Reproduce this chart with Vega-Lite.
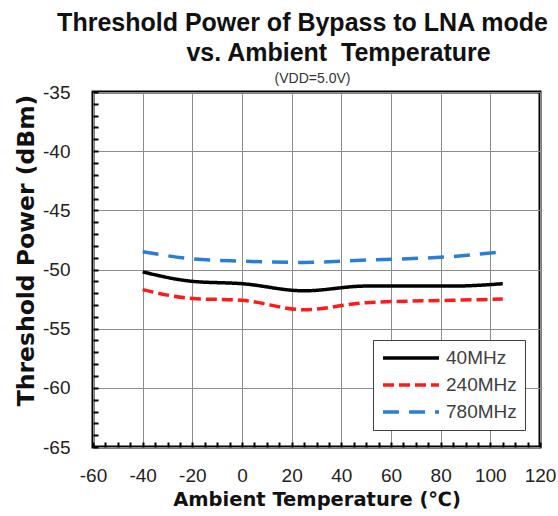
{
  "$schema": "https://vega.github.io/schema/vega-lite/v6.json",
  "width": 447,
  "height": 355,
  "autosize": {"type": "none"},
  "padding": {"left": 93, "top": 92, "right": 18, "bottom": 69},
  "background": "white",
  "title": {
    "text": ["Threshold Power of Bypass to LNA mode", "\u2800\u2800\u2800\u2800vs. Ambient\u00a0 Temperature"],
    "subtitle": "\u2800\u2800(VDD=5.0V)",
    "anchor": "middle",
    "dx": -14,
    "offset": -3,
    "font": "Liberation Sans",
    "fontSize": 25,
    "fontWeight": "bold",
    "color": "#111111",
    "lineHeight": 30,
    "subtitleFont": "Liberation Sans",
    "subtitleFontSize": 14,
    "subtitleColor": "#333333",
    "subtitlePadding": 6
  },
  "data": {
    "values": [
      {"series": "40MHz", "temp": -40, "power": -50.2},
      {"series": "40MHz", "temp": -20, "power": -51.0},
      {"series": "40MHz", "temp": 0, "power": -51.2},
      {"series": "40MHz", "temp": 25, "power": -51.8},
      {"series": "40MHz", "temp": 50, "power": -51.4},
      {"series": "40MHz", "temp": 85, "power": -51.4},
      {"series": "40MHz", "temp": 105, "power": -51.2},
      {"series": "240MHz", "temp": -40, "power": -51.7},
      {"series": "240MHz", "temp": -20, "power": -52.45},
      {"series": "240MHz", "temp": 0, "power": -52.6},
      {"series": "240MHz", "temp": 25, "power": -53.4},
      {"series": "240MHz", "temp": 50, "power": -52.8},
      {"series": "240MHz", "temp": 85, "power": -52.6},
      {"series": "240MHz", "temp": 105, "power": -52.5},
      {"series": "780MHz", "temp": -40, "power": -48.5},
      {"series": "780MHz", "temp": -20, "power": -49.1},
      {"series": "780MHz", "temp": 0, "power": -49.3},
      {"series": "780MHz", "temp": 25, "power": -49.4},
      {"series": "780MHz", "temp": 50, "power": -49.2},
      {"series": "780MHz", "temp": 85, "power": -48.9},
      {"series": "780MHz", "temp": 105, "power": -48.5}
    ]
  },
  "mark": {"type": "line", "interpolate": "monotone", "strokeWidth": 3.5, "strokeCap": "butt"},
  "encoding": {
    "x": {
      "field": "temp",
      "type": "quantitative",
      "scale": {"domain": [-60, 120], "nice": false, "zero": false},
      "axis": {
        "title": "Ambient Temperature (℃)",
        "values": [-60, -55, -50, -45, -40, -35, -30, -25, -20, -15, -10, -5, 0, 5, 10, 15, 20, 25, 30, 35, 40, 45, 50, 55, 60, 65, 70, 75, 80, 85, 90, 95, 100, 105, 110, 115, 120],
        "labelExpr": "datum.value % 20 === 0 ? '' + datum.value : ''",
        "labelFlush": false,
        "gridOpacity": {"condition": {"test": "datum.value % 20 === 0", "value": 1}, "value": 0},
        "labelPadding": 24,
        "titlePadding": 5,
        "titleFont": "DejaVu Sans",
        "titleFontSize": 19.5,
        "titleFontWeight": "bold"
      }
    },
    "y": {
      "field": "power",
      "type": "quantitative",
      "scale": {"domain": [-65, -35], "nice": false, "zero": false},
      "axis": {
        "title": "Threshold Power (dBm)",
        "values": [-65, -64, -63, -62, -61, -60, -59, -58, -57, -56, -55, -54, -53, -52, -51, -50, -49, -48, -47, -46, -45, -44, -43, -42, -41, -40, -39, -38, -37, -36, -35],
        "labelExpr": "datum.value % 5 === 0 ? '' + datum.value : ''",
        "labelFlush": false,
        "gridOpacity": {"condition": {"test": "datum.value % 5 === 0", "value": 1}, "value": 0},
        "labelPadding": 28,
        "titlePadding": 4,
        "titleY": 158,
        "titleFont": "DejaVu Sans",
        "titleFontSize": 23.5,
        "titleFontWeight": "bold"
      }
    },
    "color": {
      "field": "series",
      "type": "nominal",
      "scale": {"domain": ["40MHz", "240MHz", "780MHz"], "range": ["#000000", "#ff1a1a", "#2a7fd4"]},
      "legend": {"title": null, "orient": "none", "legendX": 280, "legendY": 248}
    },
    "strokeDash": {
      "field": "series",
      "type": "nominal",
      "scale": {"domain": ["40MHz", "240MHz", "780MHz"], "range": [[1, 0], [11, 5], [16, 10]]},
      "legend": {"title": null, "orient": "none", "legendX": 280, "legendY": 248}
    }
  },
  "config": {
    "view": {"stroke": "#000000", "strokeWidth": 3},
    "axis": {
      "domain": false,
      "grid": true,
      "gridColor": "#8c8c8c",
      "gridWidth": 1,
      "ticks": true,
      "tickSize": -5,
      "tickWidth": 2,
      "tickColor": "#000000",
      "labelFont": "Liberation Sans",
      "labelFontSize": 19,
      "labelColor": "#222222",
      "titleColor": "#111111"
    },
    "legend": {
      "symbolType": "M-3.5,0L3.5,0",
      "symbolSize": 256,
      "symbolOffset": 20,
      "symbolStrokeWidth": 3.5,
      "labelFont": "Liberation Sans",
      "labelFontSize": 19,
      "labelColor": "#404040",
      "labelOffset": 25,
      "rowPadding": 7,
      "padding": 8,
      "strokeColor": "#404040",
      "strokeWidth": 1,
      "fillColor": "#ffffff",
      "labelLimit": 200
    }
  }
}
